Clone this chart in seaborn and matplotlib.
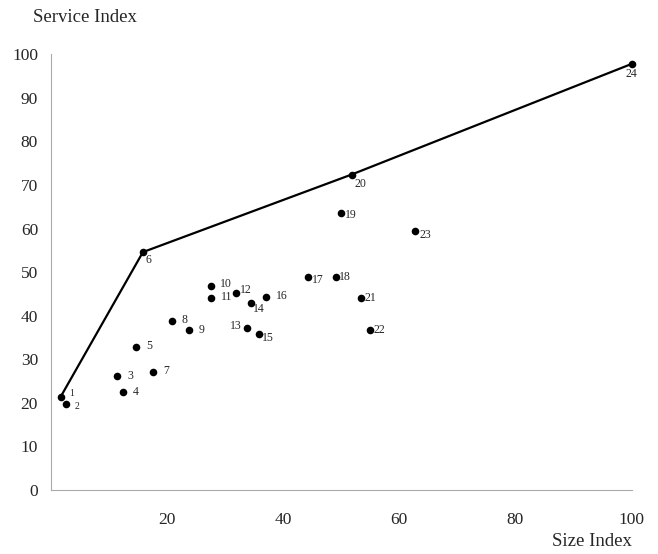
import pandas as pd
import seaborn as sns
import matplotlib
matplotlib.use("Agg")
import matplotlib.pyplot as plt

# data
unit_ids = ['1', '2', '3', '4', '5', '6', '7', '8', '9', '10', '11', '12',
            '13', '14', '15', '16', '17', '18', '19', '20', '21', '22', '23', '24']
size_index = [1.75, 2.6, 11.5, 12.4, 14.7, 15.9, 17.6, 20.9, 23.8, 27.6, 27.7, 32.0,
              33.8, 34.5, 35.9, 37.1, 44.3, 49.1, 50.0, 51.8, 53.4, 54.9, 62.8, 100.0]
service_index = [21.4, 19.8, 26.2, 22.5, 32.9, 54.6, 27.0, 38.7, 36.7, 46.8, 44.1, 45.1,
                 37.2, 42.9, 35.7, 44.4, 49.0, 49.0, 63.6, 72.4, 44.1, 36.7, 59.4, 97.8]
frontier_ids = ['1', '6', '20', '24']

x_ticks = [20, 40, 60, 80, 100]
y_ticks = [0, 10, 20, 30, 40, 50, 60, 70, 80, 90, 100]

df = pd.DataFrame({'unit': unit_ids, 'size': size_index, 'service': service_index})
front = df.set_index('unit').loc[frontier_ids].reset_index()

# label offsets in pixels (right, down) and alignment
offsets = {
    '1': (9, -3, 'left'), '2': (9, 3, 'left'), '3': (10, 0, 'left'), '4': (10, 0, 'left'),
    '5': (10, -1, 'left'), '6': (3, 8, 'left'), '7': (10, -1, 'left'), '8': (10, -1, 'left'),
    '9': (10, 0, 'left'), '10': (9, -2, 'left'), '11': (9, -1, 'left'), '12': (3, -3, 'left'),
    '13': (-5, -2, 'right'), '14': (2, 6, 'left'), '15': (3, 4, 'left'), '16': (10, -1, 'left'),
    '17': (4, 3, 'left'), '18': (3, 0, 'left'), '19': (4, 2, 'left'), '20': (3, 9, 'left'),
    '21': (4, 0, 'left'), '22': (4, 0, 'left'), '23': (4, 4, 'left'), '24': (0, 10, 'center'),
}

sns.set_style('white')
plt.rcParams['font.family'] = ['Liberation Serif', 'DejaVu Serif']

fig = plt.figure(figsize=(6.58, 5.54), dpi=100)
ax = fig.add_axes([50.5 / 658, 64 / 554, 581.2 / 658, 435.7 / 554])

sns.lineplot(data=front, x='size', y='service', sort=False, color='black',
             linewidth=1.6, ax=ax, clip_on=False)
sns.scatterplot(data=df, x='size', y='service', color='black', s=30,
                edgecolor='black', linewidth=0, ax=ax, clip_on=False, zorder=3)

for u, xv, yv in zip(unit_ids, size_index, service_index):
    dx, dy, ha = offsets[u]
    fs = 7 if u in ('1', '2') else 8.5
    ax.annotate(u, (xv, yv), xytext=(dx, -dy), textcoords='offset pixels',
                ha=ha, va='center', fontsize=fs)

ax.set_xlim(0, 100)
ax.set_ylim(0, 100)
ax.set_xticks(x_ticks)
ax.set_yticks(y_ticks)
ax.tick_params(axis='x', direction='in', length=3, width=0.6, color='#999999',
               pad=16, labelsize=12.5)
ax.tick_params(axis='y', direction='in', length=3, width=0.6, color='#999999',
               pad=9, labelsize=12.5)
for s in ['top', 'right']:
    ax.spines[s].set_visible(False)
for s in ['left', 'bottom']:
    ax.spines[s].set_color('#aaaaaa')
    ax.spines[s].set_linewidth(0.8)

ax.set_xlabel('')
ax.set_ylabel('')
fig.text(33 / 658, 1 - 18 / 554, 'Service Index', ha='left', va='center', fontsize=13.5)
fig.text(632 / 658, 1 - 542 / 554, 'Size Index', ha='right', va='center', fontsize=13.5)

fig.savefig('out.png', dpi=100)
